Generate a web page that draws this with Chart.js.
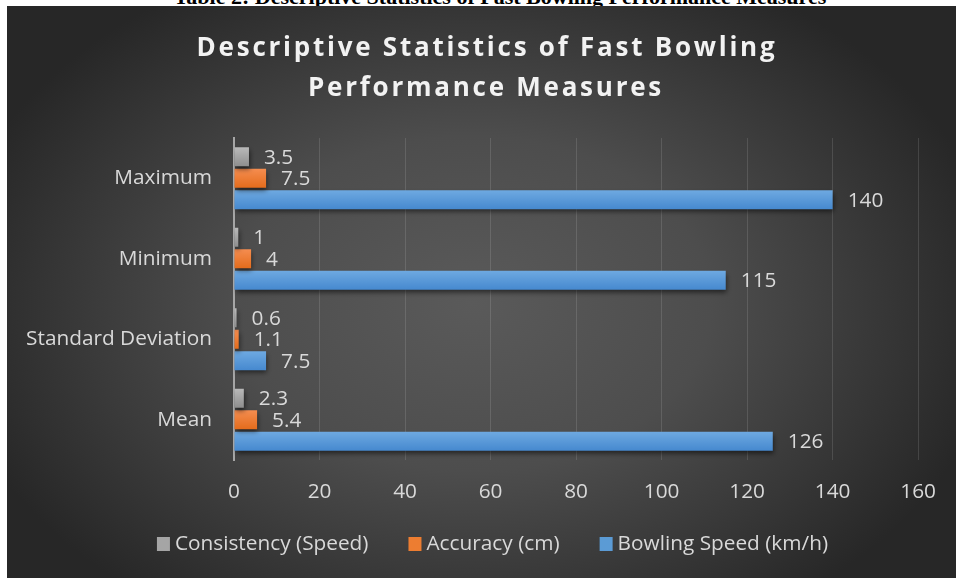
<!DOCTYPE html>
<html>
<head>
<meta charset="utf-8">
<script src="https://cdn.jsdelivr.net/npm/chart.js@4.4.1/dist/chart.umd.min.js"></script>
<style>
  body { margin: 0; background: #fff; width: 956px; height: 578px; overflow: hidden; position: relative; }
  .caption {
    position: absolute; left: 0; top: -14px; width: 1000px; text-align: center;
    font: bold 22px "Liberation Serif", "Times New Roman", serif; line-height: 22px; color: #000;
    white-space: nowrap;
  }
  #chart { position: absolute; left: 7px; top: 6px; }
</style>
</head>
<body>
<div class="caption">Table 2: Descriptive Statistics of Fast Bowling Performance Measures</div>
<canvas id="chart" width="949" height="572"></canvas>
<script>
// categories listed top to bottom as they appear on the chart
const categories = ['Maximum', 'Minimum', 'Standard Deviation', 'Mean'];
const consistency = [3.5, 1, 0.6, 2.3];
const accuracy = [7.5, 4, 1.1, 5.4];
const bowlingSpeed = [140, 115, 7.5, 126];
const seriesNames = ['Consistency (Speed)', 'Accuracy (cm)', 'Bowling Speed (km/h)'];
const titleLines = ['Descriptive Statistics of Fast Bowling', 'Performance Measures'];

const FONT = '"Open Sans", "Liberation Sans", sans-serif';
const FONT_SIZE = 20.8;
const textColor = '#d9d9d9';
const flatColors = ['#a5a5a5', '#ed7d31', '#5b9bd5'];

// vertical gradient for each bar, falls back to flat colour on first pass
const barFill = (top, bottom, flat) => (context) => {
    const el = context.element;
    if (!el || !el.height || isNaN(el.y)) return flat;
    const g = context.chart.ctx.createLinearGradient(0, el.y - el.height / 2, 0, el.y + el.height / 2);
    g.addColorStop(0, top);
    g.addColorStop(1, bottom);
    return g;
};

const backgroundPlugin = {
    id: 'bg',
    beforeDraw(chart) {
        const { ctx, width, height } = chart;
        ctx.save();
        ctx.fillStyle = '#262626';
        ctx.fillRect(0, 0, width, height);
        ctx.translate(width * 0.49, height * 0.52);
        ctx.scale(1, 0.7);
        const r = width * 0.56;
        const g = ctx.createRadialGradient(0, 0, 0, 0, 0, r);
        g.addColorStop(0, '#5a5a5a');
        g.addColorStop(0.45, '#4d4d4d');
        g.addColorStop(1, '#272727');
        ctx.fillStyle = g;
        ctx.fillRect(-r * 1.2, -r * 1.6, r * 2.4, r * 3.2);
        ctx.restore();

        // title
        ctx.save();
        ctx.fillStyle = '#f2f2f2';
        ctx.font = 'bold 26px ' + FONT;
        ctx.letterSpacing = '2.75px';
        ctx.textAlign = 'center';
        ctx.textBaseline = 'alphabetic';
        ctx.fillText(titleLines[0], 480, 50);
        ctx.fillText(titleLines[1], 479, 90);
        ctx.restore();
    }
};

const shadowPlugin = {
    id: 'barShadow',
    beforeDatasetsDraw(chart) {
        const ctx = chart.ctx;
        ctx.save();
        ctx.shadowColor = 'rgba(0,0,0,0.55)';
        ctx.shadowBlur = 5;
        ctx.shadowOffsetX = 1;
        ctx.shadowOffsetY = 3;
    },
    afterDatasetsDraw(chart) {
        chart.ctx.restore();
    }
};

const valueLabels = {
    id: 'valueLabels',
    afterDatasetsDraw(chart) {
        const ctx = chart.ctx;
        ctx.save();
        ctx.font = FONT_SIZE + 'px ' + FONT;
        ctx.fillStyle = textColor;
        ctx.textAlign = 'left';
        ctx.textBaseline = 'middle';
        chart.data.datasets.forEach((ds, i) => {
            chart.getDatasetMeta(i).data.forEach((bar, j) => {
                ctx.fillText(String(ds.data[j]), bar.x + 15, bar.y + 1);
            });
        });
        ctx.restore();
    }
};

// legend in the office style: small square, short gap, wide spacing between items
const bottomLegend = {
    id: 'bottomLegend',
    afterDraw(chart) {
        const ctx = chart.ctx;
        const box = 13, gap = 5, spacing = 40, centerX = 485.5, y = 538;
        ctx.save();
        ctx.font = FONT_SIZE + 'px ' + FONT;
        ctx.textBaseline = 'middle';
        ctx.textAlign = 'left';
        const widths = chart.data.datasets.map(ds => ctx.measureText(ds.label).width);
        const total = widths.reduce((s, w) => s + box + gap + w, 0) + spacing * (widths.length - 1);
        let x = centerX - total / 2;
        chart.data.datasets.forEach((ds, i) => {
            ctx.fillStyle = flatColors[i];
            ctx.fillRect(x, y - 7, box, box + 1);
            ctx.fillStyle = textColor;
            ctx.fillText(ds.label, x + box + gap, y);
            x += box + gap + widths[i] + spacing;
        });
        ctx.restore();
    }
};

const chart = new Chart(document.getElementById('chart'), {
    type: 'bar',
    data: {
        labels: categories,
        datasets: [
            {
                label: seriesNames[0],
                data: consistency,
                backgroundColor: barFill('#b9b9b9', '#8e8e8e', flatColors[0])
            },
            {
                label: seriesNames[1],
                data: accuracy,
                backgroundColor: barFill('#f58d50', '#e46c1c', flatColors[1])
            },
            {
                label: seriesNames[2],
                data: bowlingSpeed,
                backgroundColor: barFill('#6ea9e1', '#4689cf', flatColors[2])
            }
        ]
    },
    options: {
        indexAxis: 'y',
        responsive: false,
        animation: false,
        categoryPercentage: 0.8,
        barPercentage: 0.88,
        layout: { padding: { top: 132, left: 0, right: 36, bottom: 56 } },
        scales: {
            x: {
                min: 0,
                max: 160,
                ticks: { stepSize: 20, color: textColor, font: { family: FONT, size: FONT_SIZE }, padding: 20 },
                grid: { color: 'rgba(255,255,255,0.12)', drawTicks: false },
                border: { display: false },
                afterFit(scale) { scale.height = 62; }
            },
            y: {
                ticks: { color: textColor, font: { family: FONT, size: FONT_SIZE }, padding: 22 },
                grid: { display: false, drawTicks: false },
                border: { display: true, color: '#a6a6a6', width: 2 },
                afterFit(scale) { scale.width = 227; }
            }
        },
        plugins: {
            legend: { display: false },
            title: { display: false },
            tooltip: { enabled: false }
        }
    },
    plugins: [backgroundPlugin, shadowPlugin, valueLabels, bottomLegend]
});
chart.update();
</script>
</body>
</html>
